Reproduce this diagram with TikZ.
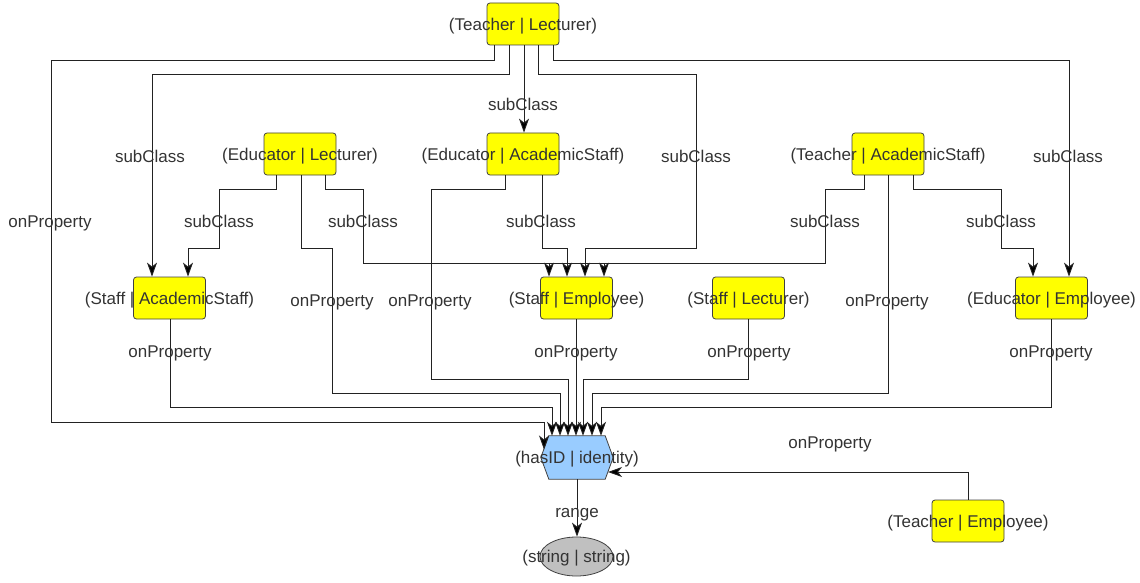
\documentclass[tikz,border=0pt]{standalone}
\usepackage{fontspec}
\setmainfont{Liberation Sans}
\usetikzlibrary{arrows.meta,shapes.geometric}
\definecolor{yfill}{HTML}{FFFF00}
\definecolor{hexblue}{HTML}{99CCFF}
\definecolor{ellgray}{HTML}{C0C0C0}
\definecolor{linec}{HTML}{222222}
\definecolor{txtc}{HTML}{333333}
\begin{document}
\begin{tikzpicture}[x=1pt,y=-1pt,
  cls/.style={draw=black!75, fill=yfill, rounded corners=3pt, minimum width=72pt, minimum height=42pt, inner sep=0pt, line width=0.8pt},
  txt/.style={font=\fontsize{17}{20}\selectfont, text=txtc, inner sep=0pt, text height=12.2pt, text depth=0pt},
  edge/.style={draw=linec, line width=0.9pt, -{Stealth[length=14pt,width=10pt,inset=4pt,fill=black]}},
]
\useasboundingbox (0,0) rectangle (1140,583);

% class boxes
\node[cls] (TL) at (523,24) {};
\node[cls] (EL) at (300,154) {};
\node[cls] (EA) at (523,154) {};
\node[cls] (TA) at (888,154) {};
\node[cls] (SA) at (169.5,298) {};
\node[cls] (SE) at (576.5,298) {};
\node[cls] (SL) at (748.5,298) {};
\node[cls] (EE) at (1051.5,298) {};
\node[cls] (TE) at (968,521) {};

% property hexagon
\node[minimum width=72pt, minimum height=43pt, inner sep=0pt] (hasID) at (577,457.5) {};
\filldraw[fill=hexblue, draw=black!75, line width=0.8pt]
  ([xshift=8pt]hasID.north west) -- ([xshift=-8pt]hasID.north east) -- (hasID.east)
  -- ([xshift=-8pt]hasID.south east) -- ([xshift=8pt]hasID.south west) -- (hasID.west) -- cycle;

% datatype ellipse
\node[draw=black!75, fill=ellgray, ellipse, minimum width=73pt, minimum height=39pt, inner sep=0pt, line width=0.8pt] (str) at (576.5,556.5) {};

% edges
\draw[edge] ([xshift=-29pt]TL.south) -- (494,60) -- (51,60) -- (51,422) -- (544,422) -- ([xshift=-33pt,yshift=8pt]hasID.center);
\draw[edge] ([xshift=-14pt]TL.south) -- (509,74) -- (152,74) -- ([xshift=-17.5pt]SA.north);
\draw[edge] ([xshift=1pt]TL.south) -- ([xshift=1pt]EA.north);
\draw[edge] ([xshift=15pt]TL.south) -- (538,74) -- (696,74) -- (696,248) -- (585,248) -- ([xshift=8.5pt]SE.north);
\draw[edge] ([xshift=30pt]TL.south) -- (553,60) -- (1069,60) -- ([xshift=17.5pt]EE.north);

\draw[edge] ([xshift=-24pt]EL.south) -- (276,189) -- (219,189) -- (219,248) -- (188,248) -- ([xshift=18.5pt]SA.north);
\draw[edge] ([xshift=1pt]EL.south) -- (301,248) -- (332,248) -- (332,393) -- (560,393) -- ([xshift=-17pt]hasID.north);
\draw[edge] ([xshift=25pt]EL.south) -- (325,189) -- (363,189) -- (363,263) -- (604,263) -- ([xshift=27.5pt]SE.north);

\draw[edge] ([xshift=-18pt]EA.south) -- (505,189) -- (431,189) -- (431,379) -- (568,379) -- ([xshift=-9pt]hasID.north);
\draw[edge] ([xshift=19pt]EA.south) -- (542,248) -- (567,248) -- ([xshift=-9.5pt]SE.north);

\draw[edge] ([xshift=-24pt]TA.south) -- (864,189) -- (825,189) -- (825,263) -- (549,263) -- ([xshift=-27.5pt]SE.north);
\draw[edge] (TA.south) -- (888,393) -- (592,393) -- ([xshift=15pt]hasID.north);
\draw[edge] ([xshift=25pt]TA.south) -- (913,189) -- (1001,189) -- (1001,248) -- (1033,248) -- ([xshift=-18.5pt]EE.north);

\draw[edge] ([xshift=0.5pt]SA.south) -- (170,407) -- (552,407) -- ([xshift=-25pt]hasID.north);
\draw[edge] ([xshift=-0.5pt]SE.south) -- ([xshift=-1pt]hasID.north);
\draw[edge] (SL.south) -- (748.5,379) -- (583,379) -- ([xshift=6pt]hasID.north);
\draw[edge] ([xshift=-0.5pt]EE.south) -- (1051,407) -- (601,407) -- ([xshift=24pt]hasID.north);
\draw[edge] (TE.north) -- (968,472) -- ([xshift=31pt,yshift=-14.5pt]hasID.center);
\draw[edge] (hasID.south) -- (hasID.south |- str.north);

% node texts
\node[txt] (TLt) at (TL) {(Teacher | Lecturer)};
\node[txt] (ELt) at (EL) {(Educator | Lecturer)};
\node[txt] (EAt) at (EA) {(Educator | AcademicStaff)};
\node[txt] (TAt) at (TA) {(Teacher | AcademicStaff)};
\node[txt] (SAt) at (SA) {(Staff | AcademicStaff)};
\node[txt] (SEt) at (SE) {(Staff | Employee)};
\node[txt] (SLt) at (SL) {(Staff | Lecturer)};
\node[txt] (EEt) at (EE) {(Educator | Employee)};
\node[txt] (TEt) at (TE) {(Teacher | Employee)};
\node[txt] (hasIDt) at (hasID) {(hasID | identity)};
\node[txt] (strt) at (str) {(string | string)};

% edge labels
\node[txt] (l1) at (50,221) {onProperty};
\node[txt] (l2) at (150,156) {subClass};
\node[txt] (l3) at (523,104) {subClass};
\node[txt] (l4) at (696,156) {subClass};
\node[txt] (l5) at (1068,156) {subClass};
\node[txt] (l6) at (219,221) {subClass};
\node[txt] (l7) at (332,300) {onProperty};
\node[txt] (l8) at (363,221) {subClass};
\node[txt] (l9) at (430,300) {onProperty};
\node[txt] (l10) at (541,221) {subClass};
\node[txt] (l11) at (825,221) {subClass};
\node[txt] (l12) at (887,300) {onProperty};
\node[txt] (l13) at (1001,221) {subClass};
\node[txt] (l14) at (170,351) {onProperty};
\node[txt] (l15) at (576,351) {onProperty};
\node[txt] (l16) at (749,351) {onProperty};
\node[txt] (l17) at (1051,351) {onProperty};
\node[txt] (l18) at (830,442) {onProperty};
\node[txt] (l19) at (577,511) {range};
\end{tikzpicture}
\end{document}
